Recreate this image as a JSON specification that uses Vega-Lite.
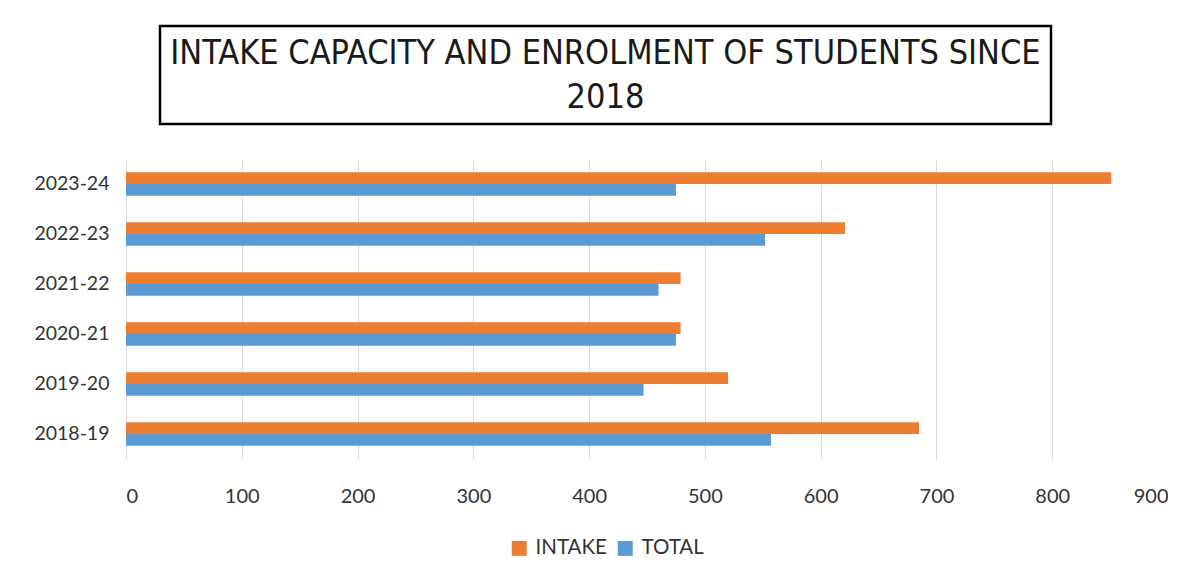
{
  "$schema": "https://vega.github.io/schema/vega-lite/v6.json",
  "padding": {"left": 33, "top": 24, "right": 0, "bottom": 0},
  "background": "white",
  "config": {"view": {"stroke": null}, "font": "Lato"},
  "spacing": 33,
  "vconcat": [
    {
      "spacing": 20,
      "hconcat": [
        {
          "width": 12,
          "height": 98,
          "data": {"values": [{"t": ""}]},
          "mark": {"type": "text"},
          "encoding": {"text": {"field": "t"}}
        },
        {
          "width": 891,
          "height": 98,
          "view": {"stroke": "#000000", "strokeWidth": 2.5},
          "data": {"values": [{"t": "INTAKE CAPACITY  AND ENROLMENT OF STUDENTS  SINCE\n2018"}]},
          "mark": {"type": "text", "font": "DejaVu Sans Condensed", "fontSize": 34, "lineBreak": "\n", "lineHeight": 44, "dy": -21, "color": "#1a1a1a"},
          "encoding": {"text": {"field": "t"}}
        }
      ]
    },
    {
      "width": 1042,
      "height": 300,
      "data": {
        "values": [
          {"year": "2023-24", "series": "INTAKE", "value": 851},
          {"year": "2023-24", "series": "TOTAL", "value": 475},
          {"year": "2022-23", "series": "INTAKE", "value": 621},
          {"year": "2022-23", "series": "TOTAL", "value": 552},
          {"year": "2021-22", "series": "INTAKE", "value": 479},
          {"year": "2021-22", "series": "TOTAL", "value": 460},
          {"year": "2020-21", "series": "INTAKE", "value": 479},
          {"year": "2020-21", "series": "TOTAL", "value": 475},
          {"year": "2019-20", "series": "INTAKE", "value": 520},
          {"year": "2019-20", "series": "TOTAL", "value": 447},
          {"year": "2018-19", "series": "INTAKE", "value": 685},
          {"year": "2018-19", "series": "TOTAL", "value": 557}
        ]
      },
      "mark": {"type": "bar"},
      "encoding": {
        "y": {
          "field": "year", "type": "nominal",
          "sort": ["2023-24", "2022-23", "2021-22", "2020-21", "2019-20", "2018-19"],
          "scale": {"paddingInner": 0.53, "paddingOuter": 0.265},
          "axis": {"title": null, "ticks": false, "domain": true, "domainColor": "#d9d9d9", "labelFontSize": 19.5, "labelColor": "#333333", "labelPadding": 17}
        },
        "yOffset": {"field": "series", "type": "nominal", "sort": ["INTAKE", "TOTAL"], "scale": {"paddingInner": 0, "paddingOuter": 0}},
        "x": {
          "field": "value", "type": "quantitative",
          "scale": {"domain": [0, 900], "nice": false},
          "axis": {"title": null, "values": [0, 100, 200, 300, 400, 500, 600, 700, 800, 900], "domain": false, "ticks": false, "grid": true, "gridColor": "#d9d9d9", "labelFontSize": 20, "labelColor": "#333333", "labelPadding": 27}
        },
        "color": {
          "field": "series", "type": "nominal",
          "scale": {"domain": ["INTAKE", "TOTAL"], "range": ["#ED7D31", "#5B9BD5"]},
          "legend": {"orient": "none", "legendX": 383, "legendY": 512, "direction": "horizontal", "title": null, "symbolType": "square", "symbolSize": 225, "symbolStrokeWidth": 0, "labelFontSize": 20.5, "labelColor": "#333333", "columnPadding": 8, "labelOffset": 6}
        }
      }
    }
  ]
}
